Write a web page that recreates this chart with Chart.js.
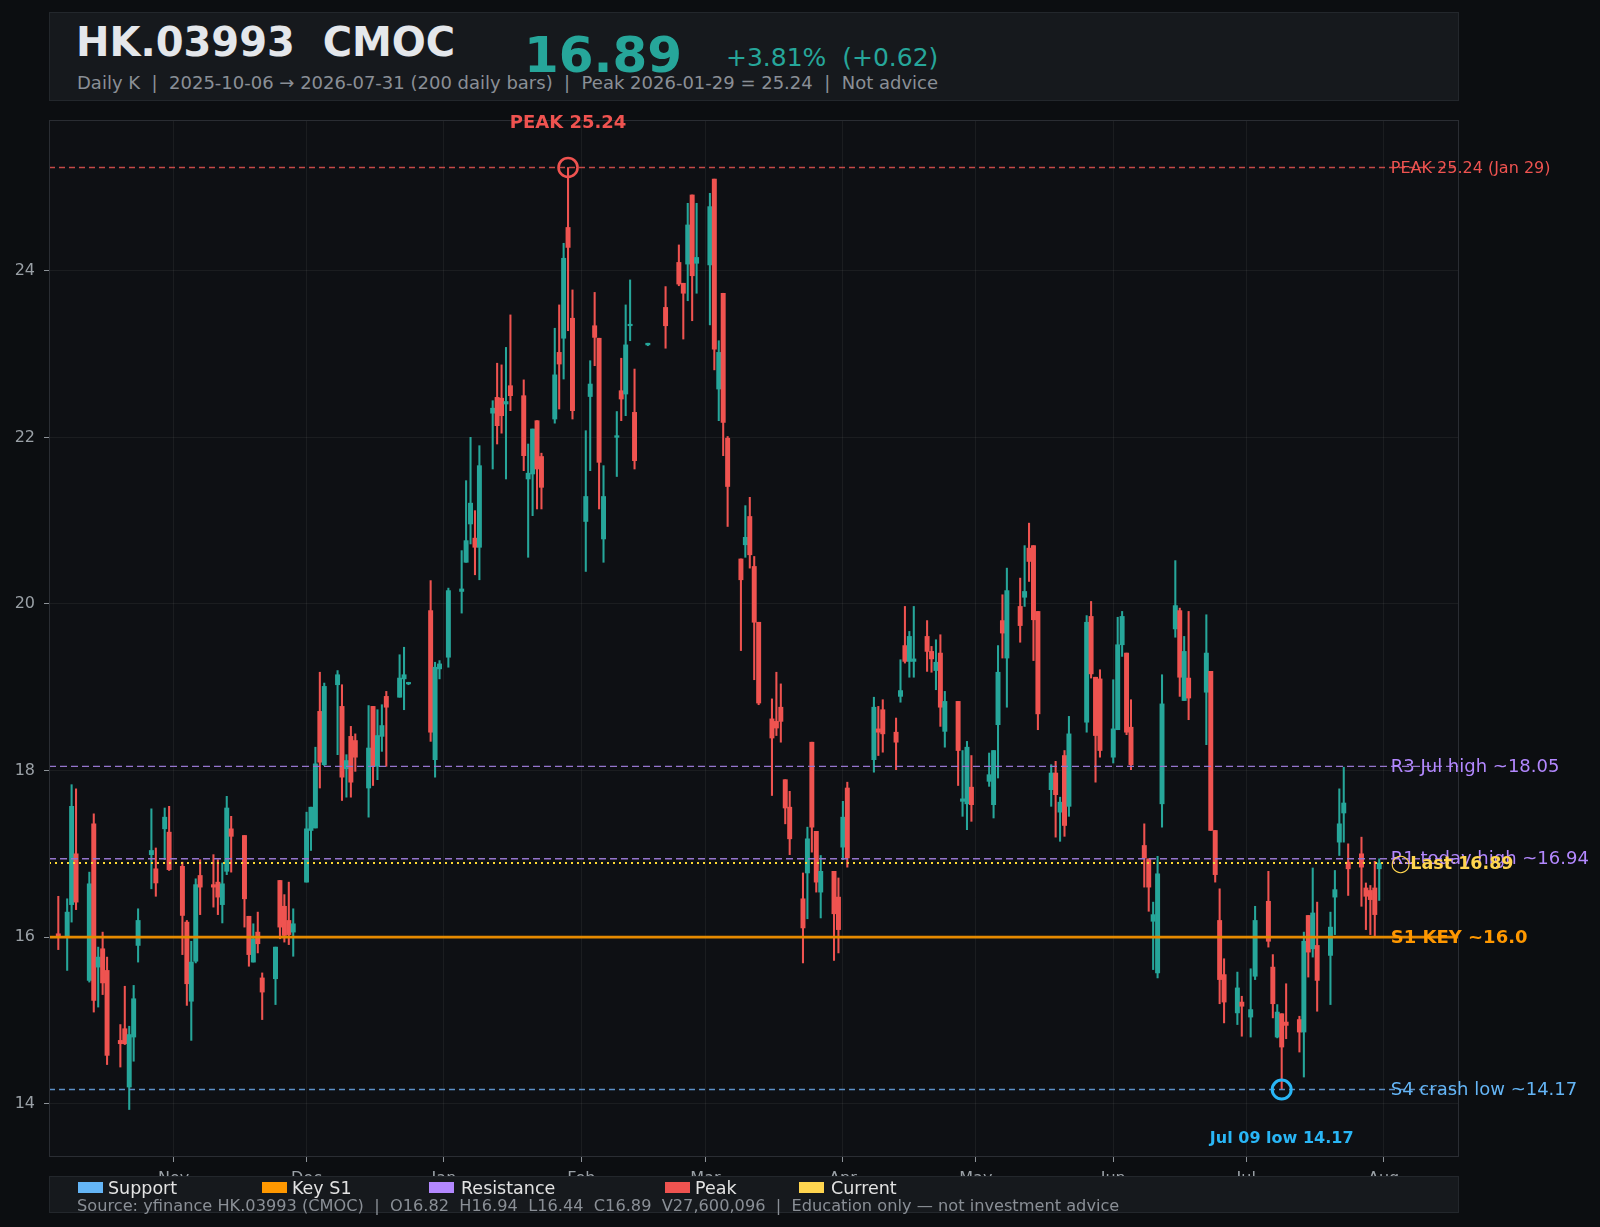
<!DOCTYPE html>
<html>
<head>
<meta charset="utf-8">
<script src="https://cdn.jsdelivr.net/npm/chart.js@4.4.1/dist/chart.umd.min.js"></script>
<style>
  html, body { margin: 0; padding: 0; background: #0c0e11; }
  #wrap { position: relative; width: 1600px; height: 1227px; font-family: "DejaVu Sans", sans-serif; overflow: hidden; }
  #chart { position: absolute; left: 0; top: 0; }
  .box { position: absolute; left: 49px; width: 1410px; background: #16191d; border: 1px solid #23272c; box-sizing: border-box; }
  #head { top: 12px; height: 89px; }
  #foot { top: 1176px; height: 37px; }
  .t { position: absolute; white-space: pre; line-height: 1; }
  .sw { position: absolute; width: 25px; height: 11px; top: 1182px; }
  .lg { font-size: 17.5px; color: #e3e3e3; top: 1180px; }
</style>
</head>
<body>
<div id="wrap">
  <canvas id="chart" width="1600" height="1227"></canvas>
  <div class="box" id="head"></div>
  <div class="t" style="left:76px;top:22px;font-size:40px;font-weight:bold;color:#e4e7eb;">HK.03993  CMOC</div>
  <div class="t" style="left:524px;top:30px;font-size:50px;font-weight:bold;color:#26a69a;">16.89</div>
  <div class="t" style="left:726px;top:45px;font-size:25px;color:#26a69a;">+3.81%  (+0.62)</div>
  <div class="t" style="left:77px;top:74px;font-size:18px;color:#8a8f96;">Daily K  |  2025-10-06 → 2026-07-31 (200 daily bars)  |  Peak 2026-01-29 = 25.24  |  Not advice</div>

  <div class="box" id="foot"></div>
  <div class="sw" style="left:78px;background:#64b5f6;"></div>
  <div class="t lg" style="left:108px;">Support</div>
  <div class="sw" style="left:262px;background:#ff9800;"></div>
  <div class="t lg" style="left:292px;">Key S1</div>
  <div class="sw" style="left:429px;background:#b388ff;"></div>
  <div class="t lg" style="left:461px;">Resistance</div>
  <div class="sw" style="left:665px;background:#ef5350;"></div>
  <div class="t lg" style="left:695px;">Peak</div>
  <div class="sw" style="left:799px;background:#ffd54f;"></div>
  <div class="t lg" style="left:831px;">Current</div>
  <div class="t" style="left:77px;top:1198px;font-size:16.2px;color:#8a8f96;">Source: yfinance HK.03993 (CMOC)  |  O16.82  H16.94  L16.44  C16.89  V27,600,096  |  Education only — not investment advice</div>
</div>
<script>
// trading days (HK calendar)
const dates = [
  '2025-10-06','2025-10-08','2025-10-09','2025-10-10','2025-10-13','2025-10-14','2025-10-15','2025-10-16','2025-10-17','2025-10-20','2025-10-21','2025-10-22','2025-10-23','2025-10-24','2025-10-27','2025-10-28','2025-10-30','2025-10-31',
  '2025-11-03','2025-11-04','2025-11-05','2025-11-06','2025-11-07','2025-11-10','2025-11-11','2025-11-12','2025-11-13','2025-11-14','2025-11-17','2025-11-18','2025-11-19','2025-11-20','2025-11-21','2025-11-24','2025-11-25','2025-11-26','2025-11-27','2025-11-28',
  '2025-12-01','2025-12-02','2025-12-03','2025-12-04','2025-12-05','2025-12-08','2025-12-09','2025-12-10','2025-12-11','2025-12-12','2025-12-15','2025-12-16','2025-12-17','2025-12-18','2025-12-19','2025-12-22','2025-12-23','2025-12-24','2025-12-29','2025-12-30','2025-12-31',
  '2026-01-02','2026-01-05','2026-01-06','2026-01-07','2026-01-08','2026-01-09','2026-01-12','2026-01-13','2026-01-14','2026-01-15','2026-01-16','2026-01-19','2026-01-20','2026-01-21','2026-01-22','2026-01-23','2026-01-26','2026-01-27','2026-01-28','2026-01-29','2026-01-30',
  '2026-02-02','2026-02-03','2026-02-04','2026-02-05','2026-02-06','2026-02-09','2026-02-10','2026-02-11','2026-02-12','2026-02-13','2026-02-16','2026-02-20','2026-02-23','2026-02-24','2026-02-25','2026-02-26','2026-02-27',
  '2026-03-02','2026-03-03','2026-03-04','2026-03-05','2026-03-06','2026-03-09','2026-03-10','2026-03-11','2026-03-12','2026-03-13','2026-03-16','2026-03-17','2026-03-18','2026-03-19','2026-03-20','2026-03-23','2026-03-24','2026-03-25','2026-03-26','2026-03-27','2026-03-30','2026-03-31',
  '2026-04-01','2026-04-02','2026-04-08','2026-04-09','2026-04-10','2026-04-13','2026-04-14','2026-04-15','2026-04-16','2026-04-17','2026-04-20','2026-04-21','2026-04-22','2026-04-23','2026-04-24','2026-04-27','2026-04-28','2026-04-29','2026-04-30',
  '2026-05-04','2026-05-05','2026-05-06','2026-05-07','2026-05-08','2026-05-11','2026-05-12','2026-05-13','2026-05-14','2026-05-15','2026-05-18','2026-05-19','2026-05-20','2026-05-21','2026-05-22','2026-05-26','2026-05-27','2026-05-28','2026-05-29',
  '2026-06-01','2026-06-02','2026-06-03','2026-06-04','2026-06-05','2026-06-08','2026-06-09','2026-06-10','2026-06-11','2026-06-12','2026-06-15','2026-06-16','2026-06-17','2026-06-18','2026-06-22','2026-06-23','2026-06-24','2026-06-25','2026-06-26','2026-06-29','2026-06-30',
  '2026-07-02','2026-07-03','2026-07-06','2026-07-07','2026-07-08','2026-07-09','2026-07-10','2026-07-13','2026-07-14','2026-07-15','2026-07-16','2026-07-17','2026-07-20','2026-07-21','2026-07-22','2026-07-23','2026-07-24','2026-07-27','2026-07-28','2026-07-29','2026-07-30','2026-07-31'
];

const open = [
  16.04,16.00,16.39,17.00,15.48,17.36,15.64,15.86,15.60,14.76,14.90,14.20,14.80,15.90,16.99,16.82,17.30,17.26,
  16.85,16.18,15.23,15.71,16.74,16.63,16.66,16.39,16.79,17.30,17.22,16.25,15.70,16.06,15.51,15.50,16.68,16.37,16.20,16.06,
  16.66,17.28,17.31,18.71,18.07,19.03,18.77,18.02,18.41,18.36,17.79,18.77,18.05,18.41,18.89,18.88,19.10,19.04,19.92,18.13,19.22,
  19.36,20.15,20.50,20.96,20.79,20.68,22.29,22.48,22.47,22.40,22.62,22.50,21.50,21.56,22.20,21.77,22.22,23.02,23.19,24.52,23.43,
  20.99,22.49,23.34,23.19,20.78,22.00,22.56,22.52,23.34,22.30,23.11,23.56,24.10,23.85,24.08,24.91,24.09,
  24.07,25.10,22.58,23.73,21.99,20.54,20.71,21.05,20.45,19.78,18.62,18.59,18.76,17.89,17.56,16.46,16.77,18.34,17.27,16.54,16.79,16.48,
  17.08,17.79,18.13,18.50,18.73,18.46,18.89,19.50,19.31,19.31,19.61,19.43,19.20,19.41,18.47,18.83,17.63,17.60,17.80,
  17.87,17.59,18.55,19.80,19.35,19.97,20.08,20.67,20.70,19.91,17.77,17.97,17.50,18.18,17.57,18.58,19.85,19.12,19.10,
  18.16,18.49,19.51,19.41,18.52,17.10,16.94,16.19,15.57,17.60,19.70,19.92,18.84,19.11,18.94,19.19,17.28,16.20,15.55,15.09,15.22,
  15.04,15.53,16.43,15.64,14.80,15.08,14.98,15.01,14.86,16.26,15.86,15.90,15.78,16.48,17.14,17.49,16.90,17.00,16.59,16.56,16.59,16.82
];
const high = [
  16.49,16.46,17.83,17.78,16.78,17.48,15.88,16.06,15.76,14.95,15.41,14.93,15.42,16.34,17.54,17.07,17.55,17.57,
  16.90,16.20,15.95,16.70,16.93,16.99,16.93,16.89,17.69,17.45,17.22,16.25,16.16,16.30,15.57,15.88,16.68,16.51,16.66,16.34,
  17.50,17.56,18.28,19.18,19.05,19.20,19.03,18.19,18.53,18.44,18.78,18.77,18.73,18.79,18.95,19.39,19.48,19.06,20.28,19.30,19.32,
  20.19,20.64,21.48,22.00,21.12,21.90,22.44,22.89,22.87,23.08,23.47,22.69,21.92,22.10,22.20,21.81,23.31,23.59,24.33,25.24,23.77,
  22.08,22.92,23.74,23.19,21.66,22.31,22.95,23.59,23.89,22.82,23.13,23.81,24.31,23.85,24.81,24.91,24.81,
  24.93,25.10,23.16,23.73,22.01,20.54,21.18,21.28,20.57,19.78,18.86,19.18,19.04,17.89,17.75,16.77,17.32,18.34,17.27,16.98,16.79,16.71,
  17.63,17.86,18.88,18.77,18.85,18.63,19.33,19.97,19.67,19.97,19.80,19.49,19.57,19.63,18.95,18.83,18.24,18.35,18.18,
  18.21,18.24,19.50,20.11,20.43,20.31,20.70,20.97,20.70,19.91,18.07,18.11,17.68,18.24,18.65,19.86,20.03,19.12,19.21,
  19.09,19.84,19.91,19.41,18.85,17.36,16.94,16.42,16.97,19.15,20.52,19.95,19.61,19.91,19.87,19.19,17.28,16.58,15.74,15.58,15.29,
  15.62,16.37,16.79,15.79,15.19,15.08,15.44,15.05,16.06,16.26,16.83,16.42,16.30,16.80,17.78,18.04,17.12,17.20,16.65,16.62,16.91,16.94
];
const low = [
  15.85,15.60,16.18,16.33,15.46,15.10,15.16,15.31,14.47,14.44,14.71,13.93,14.51,15.70,16.58,16.49,16.93,16.80,
  15.79,15.18,14.76,15.69,16.27,16.36,16.27,16.17,16.75,16.78,16.12,15.65,15.70,15.81,15.01,15.19,15.98,15.94,15.91,15.77,
  16.66,17.04,17.31,17.79,18.06,18.19,17.64,17.68,17.68,17.99,17.44,17.82,17.89,18.23,18.05,18.88,18.73,19.03,18.35,17.92,19.10,
  19.24,19.89,20.50,20.72,20.35,20.29,21.62,21.92,22.05,21.50,22.32,21.60,20.56,21.06,21.14,21.14,22.17,22.34,22.70,23.28,22.22,
  20.39,21.60,22.86,21.14,20.50,21.53,22.20,22.26,23.16,21.62,23.10,23.07,23.82,23.18,23.64,23.40,23.73,
  23.35,22.81,22.20,21.78,20.93,19.44,20.56,20.43,19.09,18.79,17.70,18.42,18.34,17.36,16.99,15.69,16.22,17.02,16.54,16.23,15.72,15.81,
  16.93,16.84,17.98,18.18,18.22,18.01,18.82,19.29,19.12,19.12,19.19,19.18,18.97,18.53,18.28,17.82,17.45,17.29,17.39,
  17.81,17.43,17.91,19.35,18.76,19.54,19.97,20.27,19.32,18.49,17.57,17.20,17.15,17.21,17.45,18.46,19.11,17.86,18.16,
  18.09,18.49,19.37,18.43,18.01,16.60,16.31,15.61,15.51,17.32,19.60,18.89,18.84,18.61,18.31,17.28,16.66,15.20,14.97,14.95,14.81,
  14.80,15.49,15.88,15.03,14.79,14.17,14.78,14.62,14.32,15.52,15.76,15.11,15.19,16.03,16.98,17.14,16.50,16.37,16.09,16.03,16.00,16.44
];
const close = [
  16.00,16.30,17.57,16.42,16.64,15.24,15.76,15.45,14.58,14.72,14.72,14.83,15.26,16.20,17.04,16.65,17.44,16.81,
  16.26,15.44,15.70,16.63,16.60,16.60,16.48,16.64,17.55,17.21,16.46,15.79,15.98,15.92,15.34,15.88,16.12,16.02,16.03,16.16,
  17.30,17.56,18.08,18.10,19.01,19.15,17.92,18.12,17.86,18.16,18.27,18.05,18.42,18.54,18.76,19.11,19.15,19.05,18.46,19.24,19.28,
  20.16,20.18,20.76,21.21,20.68,21.66,22.35,22.14,22.26,22.43,22.50,21.78,21.57,22.10,21.62,21.40,22.75,22.88,24.15,24.28,22.32,
  21.29,22.64,23.20,21.70,21.29,22.02,22.46,23.11,23.35,21.72,23.13,23.34,23.84,23.73,24.55,23.94,24.16,
  24.77,23.06,23.02,22.18,21.41,20.29,20.80,20.59,19.78,18.81,18.39,18.51,18.59,17.55,17.18,16.11,17.18,17.32,16.66,16.79,16.28,16.09,
  17.44,16.95,18.76,18.46,18.44,18.34,18.96,19.31,19.61,19.34,19.43,19.34,19.30,18.76,18.83,18.24,17.66,18.28,17.59,
  17.95,18.24,19.18,19.65,20.16,19.74,20.15,20.51,19.81,18.68,17.97,17.71,17.62,17.34,18.44,19.78,19.16,18.42,18.24,
  18.50,19.51,19.85,18.46,18.07,16.95,16.60,16.27,16.76,18.80,19.98,19.12,19.43,18.87,19.41,17.28,16.75,15.49,15.22,15.39,15.17,
  15.13,16.20,15.95,15.20,15.10,14.68,14.94,14.86,15.95,15.82,16.29,15.48,16.12,16.57,17.36,17.61,16.82,16.84,16.49,16.45,16.27,16.89
];

// axis ticks
const monthStarts = ['2025-11-01','2025-12-01','2026-01-01','2026-02-01','2026-03-01','2026-04-01','2026-05-01','2026-06-01','2026-07-01','2026-08-01'];
const monthNames = ['Nov','Dec','Jan','Feb','Mar','Apr','May','Jun','Jul','Aug'];
const yTicks = [14, 16, 18, 20, 22, 24];

// reference levels
const levelValues = [25.24, 18.05, 16.94, 16.89, 16.0, 14.17];
const levelNames = ['PEAK 25.24 (Jan 29)', 'R3 Jul high ~18.05', 'R1 today high ~16.94', '◯Last 16.89', 'S1 KEY ~16.0', 'S4 crash low ~14.17'];

// marked points
const peakPoint = { date: '2026-01-29', value: 25.24, label: 'PEAK 25.24' };
const lowPoint = { date: '2026-07-09', value: 14.17, label: 'Jul 09 low 14.17' };

const UP = '#26a69a', DOWN = '#ef5350';
const day0 = Date.UTC(2025, 9, 1);
function dayNum(s) {
  const p = s.split('-').map(Number);
  return (Date.UTC(p[0], p[1] - 1, p[2]) - day0) / 86400000;
}
const X_MIN = 2.9, X_MAX = 321.0, Y_MIN = 13.36, Y_MAX = 25.81;
const LABEL_X = 305.6;

const candleColors = close.map((c, i) => c >= open[i] ? UP : DOWN);
const wickData = dates.map((d, i) => ({ x: dayNum(d), y: [low[i], high[i]] }));
const bodyData = dates.map((d, i) => ({ x: dayNum(d), y: [Math.min(open[i], close[i]), Math.max(open[i], close[i])] }));

const levelStyles = [
  { color: 'rgba(229,83,80,0.85)', width: 1.4, dash: [6, 4] },
  { color: '#9575cd', width: 1.4, dash: [7, 4] },
  { color: '#9575cd', width: 1.4, dash: [7, 4] },
  { color: '#fdd835', width: 2, dash: [2, 4] },
  { color: '#e68a00', width: 2.6, dash: [] },
  { color: '#5b8fc7', width: 1.4, dash: [6, 4] }
];
const levelTextStyles = [
  { color: '#ef5350', font: '16px "DejaVu Sans"' },
  { color: '#b388ff', font: '18px "DejaVu Sans"' },
  { color: '#b388ff', font: '18px "DejaVu Sans"' },
  { color: '#ffd54f', font: 'bold 17.5px "DejaVu Sans"' },
  { color: '#ff9800', font: 'bold 18px "DejaVu Sans"' },
  { color: '#64b5f6', font: '18px "DejaVu Sans"' }
];

const levelSets = levelValues.map((v, i) => ({
  type: 'line',
  data: [{ x: X_MIN, y: v }, { x: X_MAX, y: v }],
  borderColor: levelStyles[i].color,
  borderWidth: levelStyles[i].width,
  borderDash: levelStyles[i].dash,
  pointRadius: 0,
  order: 1
}));

const decor = {
  id: 'decor',
  beforeDraw(chart) {
    const { ctx, chartArea: a } = chart;
    ctx.save();
    ctx.fillStyle = '#0c0e11';
    ctx.fillRect(0, 0, chart.width, chart.height);
    ctx.fillStyle = '#0e1014';
    ctx.fillRect(a.left, a.top, a.right - a.left, a.bottom - a.top);
    ctx.restore();
  },
  afterDraw(chart) {
    const { ctx, chartArea: a, scales: { x, y } } = chart;
    ctx.save();
    ctx.strokeStyle = '#2a2d33';
    ctx.lineWidth = 1;
    ctx.strokeRect(a.left + 0.5, a.top + 0.5, a.right - a.left - 1, a.bottom - a.top - 1);

    ctx.textBaseline = 'middle';
    ctx.textAlign = 'left';
    levelValues.forEach((v, i) => {
      ctx.fillStyle = levelTextStyles[i].color;
      ctx.font = levelTextStyles[i].font;
      ctx.fillText(levelNames[i], x.getPixelForValue(LABEL_X), y.getPixelForValue(v) + 1);
    });

    ctx.textAlign = 'center';
    ctx.font = 'bold 18px "DejaVu Sans"';
    ctx.fillStyle = '#ef5350';
    ctx.fillText(peakPoint.label, x.getPixelForValue(dayNum(peakPoint.date)), y.getPixelForValue(Y_MAX) + 3);
    ctx.font = 'bold 16px "DejaVu Sans"';
    ctx.fillStyle = '#29b6f6';
    ctx.fillText(lowPoint.label, x.getPixelForValue(dayNum(lowPoint.date)), y.getPixelForValue(13.60) + 2);
    ctx.restore();
  }
};

new Chart(document.getElementById('chart'), {
  type: 'bar',
  data: {
    datasets: [
      {
        type: 'line',
        data: [{ x: dayNum(peakPoint.date), y: peakPoint.value }],
        showLine: false,
        pointRadius: 9.5,
        pointBorderWidth: 2.6,
        pointBorderColor: '#ef5350',
        pointBackgroundColor: 'rgba(0,0,0,0)',
        order: 0
      },
      {
        type: 'line',
        data: [{ x: dayNum(lowPoint.date), y: lowPoint.value }],
        showLine: false,
        pointRadius: 9.5,
        pointBorderWidth: 3,
        pointBorderColor: '#29b6f6',
        pointBackgroundColor: 'rgba(0,0,0,0)',
        order: 0
      },
      ...levelSets,
      {
        data: bodyData,
        backgroundColor: candleColors,
        barThickness: 4.3,
        minBarLength: 1.5,
        grouped: false,
        order: 2
      },
      {
        data: wickData,
        backgroundColor: candleColors,
        barThickness: 1.4,
        grouped: false,
        order: 3
      }
    ]
  },
  options: {
    responsive: false,
    animation: false,
    layout: { padding: { left: 0, top: 120, right: 141, bottom: 30 } },
    plugins: { legend: { display: false }, tooltip: { enabled: false } },
    scales: {
      x: {
        type: 'linear',
        min: X_MIN,
        max: X_MAX,
        offset: false,
        afterFit(s) { s.height = 40; },
        afterBuildTicks(s) { s.ticks = monthStarts.map(d => ({ value: dayNum(d) })); },
        grid: { offset: false, color: 'rgba(255,255,255,0.055)', tickColor: '#8d9298', tickLength: 5 },
        border: { display: false },
        ticks: {
          color: '#9aa0a6',
          font: { family: 'DejaVu Sans', size: 16 },
          padding: 7,
          maxRotation: 0,
          autoSkip: false,
          callback: (v, i) => monthNames[i]
        }
      },
      y: {
        type: 'linear',
        min: Y_MIN,
        max: Y_MAX,
        afterFit(s) { s.width = 49; },
        afterBuildTicks(s) { s.ticks = yTicks.map(v => ({ value: v })); },
        grid: { color: 'rgba(255,255,255,0.055)', tickColor: '#8d9298', tickLength: 5 },
        border: { display: false },
        ticks: {
          color: '#9aa0a6',
          font: { family: 'DejaVu Sans', size: 16 },
          padding: 9,
          callback: v => String(v)
        }
      }
    }
  },
  plugins: [decor]
});
</script>
</body>
</html>
